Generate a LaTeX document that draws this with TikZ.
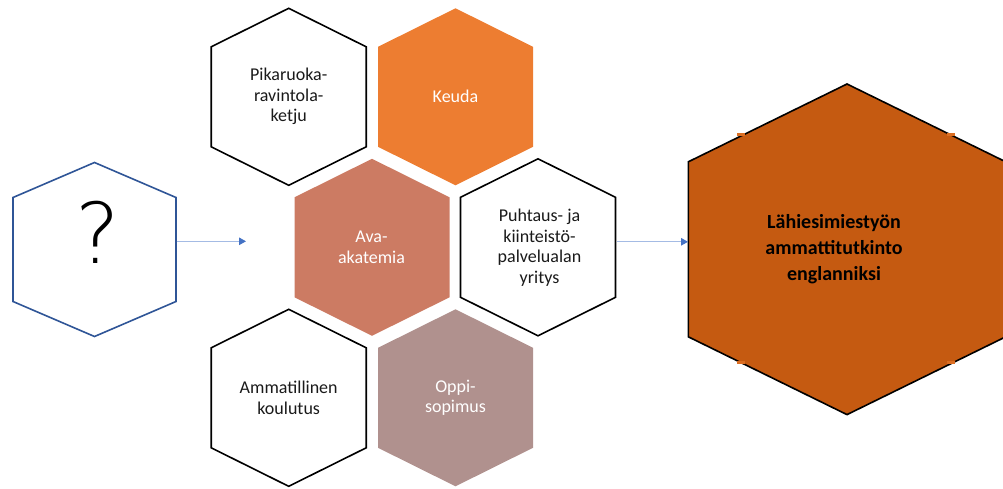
\documentclass[tikz,border=0pt]{standalone}
\usepackage{fontspec}
\setmainfont{Carlito}
\newfontfamily\qmarkfont{DejaVu Sans ExtraLight}
\usetikzlibrary{arrows.meta}

\definecolor{keudaorange}{HTML}{ED7D31}
\definecolor{avabrown}{HTML}{CC7B63}
\definecolor{oppimauve}{HTML}{B0918E}
\definecolor{goalorange}{HTML}{C55A11}
\definecolor{tabtone}{HTML}{DB6E22}
\definecolor{qblue}{HTML}{2F5597}
\definecolor{flowline}{HTML}{A4BBE4}
\definecolor{flowtip}{HTML}{4472C4}
\definecolor{textdark}{HTML}{1A1A1A}

% hexagon with pointed top and bottom: style, centre x, centre y, half width, half height, side-vertex offset
\newcommand{\hexcell}[6]{%
  \path[#1] (#2,#3-#5) -- (#2+#4,#3-#6) -- (#2+#4,#3+#6) -- (#2,#3+#5)
    -- (#2-#4,#3+#6) -- (#2-#4,#3-#6) -- cycle;}

\tikzset{
  outlined/.style={draw=black, line width=1.6pt, fill=white, line join=miter},
  lbl/.style={align=center, inner sep=0pt, text=textdark,
    font=\fontsize{18}{20.5}\selectfont},
  lightlbl/.style={lbl, text=white},
  goallbl/.style={align=center, inner sep=0pt, text=black,
    font=\fontsize{20}{26}\selectfont\bfseries},
  flow/.style={draw=flowline, line width=1.1pt,
    -{Triangle[length=7pt,width=7.5pt,color=flowtip]}},
}

\begin{document}
\begin{tikzpicture}[x=1pt, y=-1pt]
  \useasboundingbox (0,0) rectangle (1003,488);

  % unknown starting point
  \hexcell{draw=qblue, line width=1.6pt, fill=white}{94.5}{249.5}{81.5}{87}{52}

  % honeycomb of partners
  \hexcell{outlined}{288.7}{96.8}{77.5}{88.5}{50}
  \hexcell{fill=keudaorange}{455.5}{96.8}{77.5}{88.5}{50}
  \hexcell{fill=avabrown}{372}{247.3}{77.5}{88.5}{50}
  \hexcell{outlined}{538}{247.3}{77.5}{88.5}{50}
  \hexcell{outlined}{288.7}{397.8}{77.5}{88.5}{50}
  \hexcell{fill=oppimauve}{455.5}{397.8}{77.5}{88.5}{50}

  % qualification
  \hexcell{draw=black, line width=1.6pt, fill=goalorange}{847}{249.3}{158.7}{165.3}{87.5}
  \fill[tabtone] (737,133.3) rectangle (745,136.3);
  \fill[tabtone] (947,133.3) rectangle (955,136.3);
  \fill[tabtone] (737,360.8) rectangle (745,363.8);
  \fill[tabtone] (947,360.8) rectangle (955,363.8);

  % labels
  \node[font=\qmarkfont\fontsize{84}{84}\selectfont, text=black, inner sep=0pt]
    (q) at (98,232) {?};
  \node[lbl] (pika) at (288.7,96.5) {Pikaruoka-\\ravintola-\\ketju};
  \node[lightlbl] (keuda) at (455.5,96.8) {Keuda};
  \node[lightlbl] (ava) at (371.5,247.3) {Ava-\\akatemia};
  \node[lbl] (puh) at (539.5,247.5) {Puhtaus- ja\\kiinteistö-\\palvelualan\\yritys};
  \node[lbl] (amm) at (288.7,397.8) {Ammatillinen\\koulutus};
  \node[lightlbl] (oppi) at (455.5,397.8) {Oppi-\\sopimus};
  \node[goallbl] (goal) at (834,248.7) {Lähiesimiestyön\\ammattitutkinto\\englanniksi};

  % connectors
  \coordinate (q-out) at (176.5,241.3);
  \coordinate (hub-in) at (246,241.3);
  \coordinate (puh-out) at (616.5,241.8);
  \coordinate (goal-in) at (688,241.8);
  \draw[flow] (q-out) -- (hub-in);
  \draw[flow] (puh-out) -- (goal-in);
\end{tikzpicture}
\end{document}
